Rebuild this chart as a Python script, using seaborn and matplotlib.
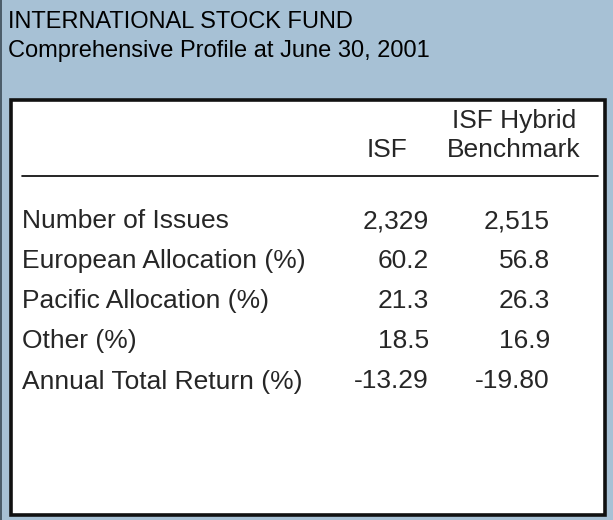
import matplotlib
matplotlib.use("Agg")
import matplotlib.pyplot as plt
import seaborn as sns
from matplotlib.patches import Rectangle

title = "INTERNATIONAL STOCK FUND"
subtitle = "Comprehensive Profile at June 30, 2001"
col_headers = ["ISF", "ISF Hybrid\nBenchmark"]
row_labels = ["Number of Issues", "European Allocation (%)", "Pacific Allocation (%)",
              "Other (%)", "Annual Total Return (%)"]
isf_values = ["2,329", "60.2", "21.3", "18.5", "-13.29"]
bench_values = ["2,515", "56.8", "26.3", "16.9", "-19.80"]

sns.set_theme(style="white")
plt.rcParams['font.family'] = ['Liberation Sans', 'DejaVu Sans']

W, H = 613, 520
fig = plt.figure(figsize=(W / 100, H / 100), dpi=100)
fig.patch.set_facecolor("#A7C1D5")
ax = fig.add_axes([0, 0, 1, 1])
ax.set_xlim(0, W)
ax.set_ylim(H, 0)
ax.axis("off")
ax.set_facecolor("none")

# left thin dark edge
ax.plot([0.8, 0.8], [0, H], color="#3a4a55", lw=1.2)

ax.text(8, 28, title, fontsize=17, color="black", va="baseline", ha="left")
ax.text(8, 57, subtitle, fontsize=17, color="black", va="baseline", ha="left")

ax.add_patch(Rectangle((10.5, 100), 594, 415, facecolor="white", edgecolor="#111111", lw=2.6))

fs = 19
ax.text(387, 157, col_headers[0], fontsize=fs, ha="center", va="baseline")
h1, h2 = col_headers[1].split("\n")
ax.text(514, 128, h1, fontsize=fs, ha="center", va="baseline")
ax.text(514, 157, h2, fontsize=fs, ha="center", va="baseline")

ax.plot([22, 598], [175.5, 175.5], color="black", lw=1.2)

baselines = [228, 268, 308, 348, 388.5]
for lab, a, b, y in zip(row_labels, isf_values, bench_values, baselines):
    ax.text(22, y, lab, fontsize=fs, ha="left", va="baseline")
    ax.text(429, y, a, fontsize=fs, ha="right", va="baseline")
    ax.text(550, y, b, fontsize=fs, ha="right", va="baseline")

fig.savefig("out.png", dpi=100, facecolor=fig.get_facecolor())
